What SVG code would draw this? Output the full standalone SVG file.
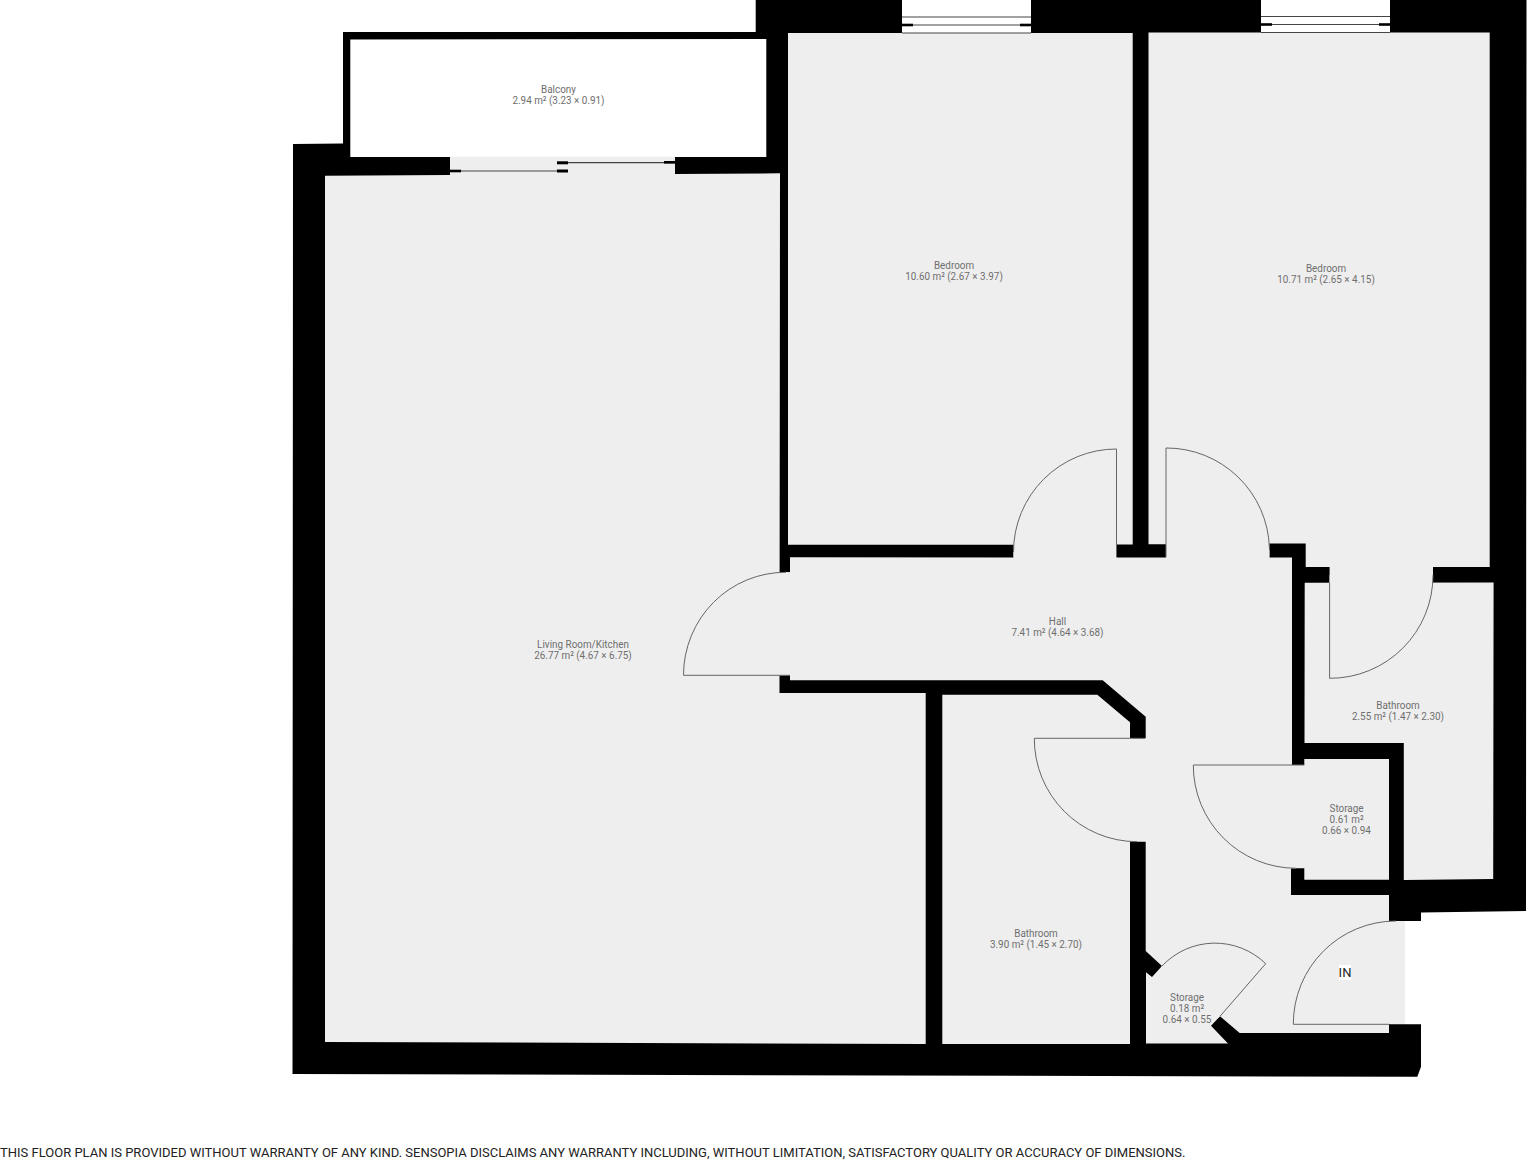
<svg xmlns="http://www.w3.org/2000/svg" width="1527" height="1160" viewBox="0 0 1527 1160">
<style>
.room{fill:#eeeeee}
.swing{fill:none;stroke:#666;stroke-width:1}
.lbl{font-family:Roboto,"Liberation Sans",sans-serif;font-size:10.6px;fill:#6e6e6e;text-anchor:middle;transform-box:fill-box;transform-origin:center;transform:scaleX(.934)}
.win{fill:#fff}
.wl{stroke:#444;stroke-width:1.2}
.blk{fill:#000}
</style>
<rect width="1527" height="1160" fill="#fff"/>
<g id="walls"><polygon fill="#000" points="293,144 343,143.5 343,32 755.7,32 755.7,0 1526.5,0 1526,911 1421,912.5 1421,921 1405,921 1405,1024.3 1421,1024.3 1421,1066.7 1417.3,1076.8 292.5,1074"/></g>
<g id="hall"><polygon class="room" points="790,557.3 1292,557.5 1292,765 1291,868.3 1291,895 1389,895 1389,921 1405,921 1405,1024.3 1389,1024.3 1389,1033 1239.7,1033 1220,1016.3 1162,966 1145.7,951 1145.7,841.7 1130,841.7 1130,738.3 1145.7,738.3 1145.7,716.7 1102.7,680.3 790,680.3 790,675.3 779.3,675.3 779.3,572.3 790,572.3"/>
<path class="room" d="M1013.5 550H1116.5V562H1013.5ZM1166 550H1269.4V562H1166ZM1329.6 575H1433V590H1329.6ZM775 572.3H795V675.3H775ZM1127 738.3H1133V841.7H1127ZM1288 765H1295V868.3H1288ZM1163.3 964.5L1221.3 1014.8L1218.7 1017.8L1160.7 967.5Z"/>
<text class="lbl" x="1057.5" y="624.6">Hall</text><text class="lbl" x="1057.5" y="635.6">7.41 m² (4.64 × 3.68)</text></g>
<g id="balcony"><polygon fill="#fff" points="350.3,39.5 766.3,39 766.3,157 350.3,157"/><text class="lbl" x="558.5" y="92.6">Balcony</text><text class="lbl" x="558.5" y="103.6">2.94 m² (3.23 × 0.91)</text></g>
<g id="living"><polygon class="room" points="325,175.7 450,175 450,156.7 675,156.7 675,174 780,173.3 779.5,693 925.7,693 925.7,1044 325,1042"/><text class="lbl" x="583" y="647.6">Living Room/Kitchen</text><text class="lbl" x="583" y="658.6">26.77 m² (4.67 × 6.75)</text></g>
<g id="bedroom1"><polygon class="room" points="788,33 1132.7,33 1132.7,544.5 1116.5,544.5 1116.5,557.3 1013.5,557.3 1013.5,544.7 788,544.7"/><text class="lbl" x="954" y="269.3">Bedroom</text><text class="lbl" x="954" y="279.8">10.60 m² (2.67 × 3.97)</text></g>
<g id="bedroom2"><polygon class="room" points="1148.5,32.5 1489.7,32.5 1489.7,567 1433,567 1433,582.5 1329.6,582.5 1329.6,567 1305.7,567 1305.7,543.5 1269.4,543.5 1269.4,557.3 1166,557.3 1166,544.3 1148.5,544.3"/><text class="lbl" x="1326" y="271.6">Bedroom</text><text class="lbl" x="1326" y="282.6">10.71 m² (2.65 × 4.15)</text></g>
<g id="bathroom1"><polygon class="room" points="1304.7,582.7 1493.6,582.5 1493.2,879 1403.8,880 1403.8,743 1304.5,743"/><text class="lbl" x="1398" y="708.6">Bathroom</text><text class="lbl" x="1398" y="719.6">2.55 m² (1.47 × 2.30)</text></g>
<g id="storage1"><polygon class="room" points="1304.3,759 1389,759 1389,879.7 1304.3,879.7 1304.3,868.3 1291,868.3 1291,765 1304.3,765"/><text class="lbl" x="1346.5" y="811.6">Storage</text><text class="lbl" x="1346.5" y="822.6">0.61 m²</text><text class="lbl" x="1346.5" y="833.6">0.66 × 0.94</text></g>
<g id="bathroom2"><polygon class="room" points="942.3,694.7 1097.3,694.7 1130,722.3 1130,1044 942.3,1044"/><text class="lbl" x="1036" y="936.6">Bathroom</text><text class="lbl" x="1036" y="947.6">3.90 m² (1.45 × 2.70)</text></g>
<g id="storage2"><polygon class="room" points="1146,972.3 1152,977 1162,966 1220,1016.3 1211,1025.7 1228,1043.5 1146,1043.5"/><text class="lbl" x="1187" y="1000.6">Storage</text><text class="lbl" x="1187" y="1011.6">0.18 m²</text><text class="lbl" x="1187" y="1022.6">0.64 × 0.55</text></g>
<g id="window1"><rect class="win" x="902" y="0" width="129" height="33"/><path class="wl" d="M902 17H1031M902 25H1031M902 33H1031"/><rect class="blk" x="902" y="23.7" width="11" height="2.6"/><rect class="blk" x="1020" y="23.7" width="11" height="2.6"/></g>
<g id="window2"><rect class="win" x="1261" y="0" width="129" height="32.5"/><path class="wl" d="M1261 16.5H1390M1261 24.5H1390M1261 32.5H1390"/><rect class="blk" x="1261" y="23.2" width="11" height="2.6"/><rect class="blk" x="1379" y="23.2" width="11" height="2.6"/></g>
<g id="sliding-door"><path class="wl" d="M450 171H567.7M557 162.7H675"/><rect class="blk" x="450" y="169.7" width="11" height="2.6"/><rect class="blk" x="557" y="169.5" width="11" height="3"/><rect class="blk" x="557" y="161.3" width="11" height="3"/><rect class="blk" x="664" y="161" width="11" height="2.6"/></g>
<g id="door-swings">
<path class="swing" d="M790 675.3H683.5A102 103 0 0 1 786 572.3"/>
<path class="swing" d="M1116.5 557V449A103 103 0 0 0 1013.5 552"/>
<path class="swing" d="M1166 557V448A103 103 0 0 1 1269.4 548"/>
<path class="swing" d="M1329.6 582.7V678.3A103 103 0 0 0 1433 575"/>
<path class="swing" d="M1145 738.3H1034.3A103 103 0 0 0 1137 841.7"/>
<path class="swing" d="M1304.3 765H1193.3A103 103 0 0 0 1296 868.3"/>
<path class="swing" d="M1389 1024.3H1293.3A103 103 0 0 1 1396 921"/>
<path class="swing" d="M1220 1016.3L1265.7 963.7A72.8 72.8 0 0 0 1162 966"/>
</g>
<g id="entry"><rect x="1339" y="965" width="12" height="15" fill="#fff"/><text x="1345" y="977" font-family="Roboto,'Liberation Sans',sans-serif" font-size="13" fill="#222" text-anchor="middle">IN</text></g>
<text transform="scale(.963 1)" x="0" y="1156.8" font-family="Roboto,'Liberation Sans',sans-serif" font-size="13.5" fill="#222">THIS FLOOR PLAN IS PROVIDED WITHOUT WARRANTY OF ANY KIND. SENSOPIA DISCLAIMS ANY WARRANTY INCLUDING, WITHOUT LIMITATION, SATISFACTORY QUALITY OR ACCURACY OF DIMENSIONS.</text>
</svg>
